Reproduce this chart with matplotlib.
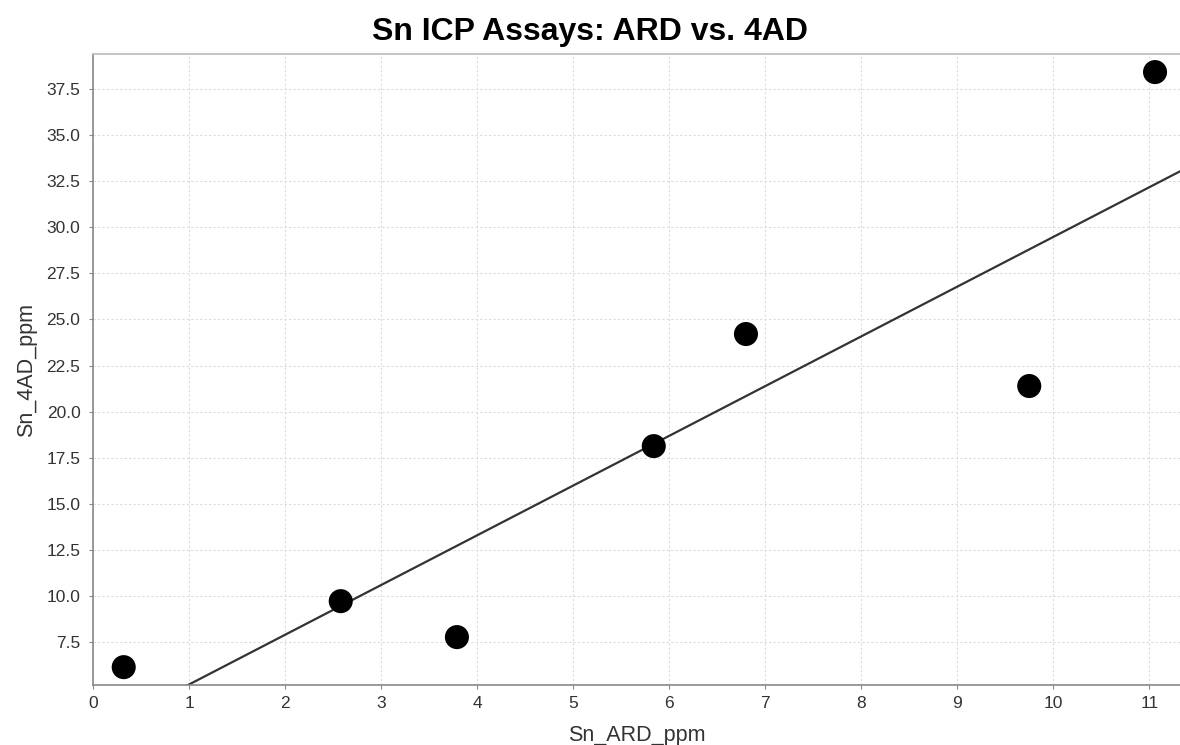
import numpy as np
import matplotlib
matplotlib.use("Agg")
import matplotlib.pyplot as plt
from matplotlib.ticker import MultipleLocator, FormatStrFormatter

plt.rcParams['font.family'] = ['Liberation Sans', 'DejaVu Sans']

# Data
sn_ard = [0.32, 2.58, 3.79, 5.84, 6.80, 9.75, 11.06]
sn_4ad = [6.14, 9.72, 7.77, 18.13, 24.21, 21.39, 38.42]

title = "Sn ICP Assays: ARD vs. 4AD"
xlabel = "Sn_ARD_ppm"
ylabel = "Sn_4AD_ppm"

x_range = (0, 11.32)
y_range = (5.17, 39.4)

fig = plt.figure(figsize=(11.8, 7.45), dpi=100)
ax = fig.add_axes([0.0788, 0.0805, 0.9212, 0.847])

# regression line (least squares fit of the data)
slope, intercept = np.polyfit(sn_ard, sn_4ad, 1)
xl = np.array(x_range)
ax.plot(xl, slope * xl + intercept, color='#333333', lw=1.6, zorder=2)

ax.scatter(sn_ard, sn_4ad, s=300, color='black', zorder=3, edgecolors='none')

ax.set_xlim(*x_range)
ax.set_ylim(*y_range)
ax.xaxis.set_major_locator(MultipleLocator(1))
ax.yaxis.set_major_locator(MultipleLocator(2.5))
ax.yaxis.set_major_formatter(FormatStrFormatter('%.1f'))

ax.grid(True, color='#dcdcdc', linestyle=(0, (2, 2)), linewidth=0.8)
ax.set_axisbelow(True)

for side in ['left', 'bottom', 'top']:
    ax.spines[side].set_color('#888888')
    ax.spines[side].set_linewidth(1.2)
ax.spines['right'].set_visible(False)
ax.spines['top'].set_color('#bbbbbb')

ax.tick_params(axis='both', colors='#888888', labelcolor='#333333',
               labelsize=12.5, length=3, width=0.8, direction='out')
ax.tick_params(axis='x', pad=5)
ax.tick_params(axis='y', pad=6)

ax.set_xlabel(xlabel, fontsize=15.5, color='#333333', labelpad=10)
ax.set_ylabel(ylabel, fontsize=15.5, color='#333333', labelpad=7)
fig.suptitle(title, fontsize=23, fontweight='bold', x=0.5, y=0.977)

fig.savefig('out.png', dpi=100)
